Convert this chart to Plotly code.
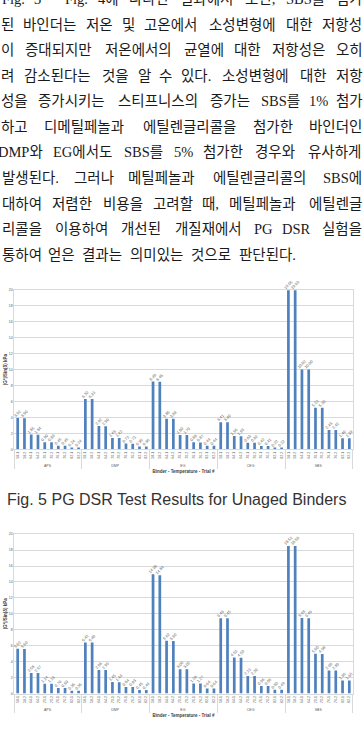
import plotly.graph_objects as go

# ---------------- data ----------------
binders = ["APS", "DMP", "EG", "CEG", "SBS"]
temps = ["58", "64", "70", "76", "82"]
trials = ["1", "2"]

unaged_APS = [3.92, 3.90, 1.85, 1.84, 0.90, 0.89, 0.45, 0.45, 0.24, 0.24]
unaged_DMP = [6.32, 6.31, 2.92, 2.90, 1.43, 1.42, 0.72, 0.71, 0.36, 0.36]
unaged_EG = [8.49, 8.46, 3.85, 3.83, 1.80, 1.79, 0.88, 0.87, 0.44, 0.44]
unaged_CEG = [3.41, 3.40, 1.66, 1.65, 0.83, 0.82, 0.42, 0.41, 0.22, 0.22]
unaged_SBS = [19.95, 19.93, 10.02, 10.00, 5.22, 5.20, 2.43, 2.42, 1.40, 1.39]

aged_APS = [5.62, 5.60, 2.58, 2.57, 1.24, 1.23, 0.70, 0.69, 0.35, 0.35]
aged_DMP = [6.42, 6.40, 2.96, 2.95, 1.45, 1.44, 0.84, 0.83, 0.45, 0.44]
aged_EG = [14.98, 14.84, 6.62, 6.60, 3.06, 3.05, 1.28, 1.27, 0.64, 0.64]
aged_CEG = [9.46, 9.45, 4.52, 4.50, 2.21, 2.20, 0.96, 0.95, 0.50, 0.49]
aged_SBS = [18.52, 18.50, 9.48, 9.46, 5.00, 4.98, 2.90, 2.89, 1.66, 1.65]

y_ticks = [0, 2, 4, 6, 8, 10, 12, 14, 16, 18, 20]

paragraph = [
    "Fig. 3 ~ Fig. 4에 나타난 결과에서 보면, SBS를 첨가",
    "된 바인더는 저온 및 고온에서 소성변형에 대한 저항성",
    "이 증대되지만 저온에서의 균열에 대한 저항성은 오히",
    "려 감소된다는 것을 알 수 있다. 소성변형에 대한 저항",
    "성을 증가시키는 스티프니스의 증가는 SBS를 1% 첨가",
    "하고 디메틸페놀과 에틸렌글리콜을 첨가한 바인더인",
    "DMP와 EG에서도 SBS를 5% 첨가한 경우와 유사하게",
    "발생된다. 그러나 메틸페놀과 에틸렌글리콜의 SBS에",
    "대하여 저렴한 비용을 고려할 때, 메틸페놀과 에틸렌글",
    "리콜을 이용하여 개선된 개질재에서 PG DSR 실험을",
    "통하여 얻은 결과는 의미있는 것으로 판단된다.",
]
caption = "Fig. 5 PG DSR Test Results for Unaged Binders"
x_title = "Binder - Temperature - Trial #"
y_title = "|G*|/Sin(δ) kPa"

# ---------------- build ----------------
W, H = 364, 736
outer = [b for b in binders for t in temps for r in trials]
inner = [f"{t}-{r}" for b in binders for t in temps for r in trials]
unaged = unaged_APS + unaged_DMP + unaged_EG + unaged_CEG + unaged_SBS
aged = aged_APS + aged_DMP + aged_EG + aged_CEG + aged_SBS

BAR = "#4F81BD"
GRID = "#d9d9d9"
TXT = "#595959"

fig = go.Figure()
for vals, xa, ya in [(unaged, "x", "y"), (aged, "x2", "y2")]:
    fig.add_trace(go.Bar(
        x=[outer, inner], y=vals, xaxis=xa, yaxis=ya,
        marker=dict(color=BAR, line=dict(width=0)),
        text=[f"{v:.2f}" for v in vals], textposition="outside",
        textangle=-45, constraintext="none", cliponaxis=False,
        textfont=dict(size=4, color=TXT, family="Liberation Sans"),
        showlegend=False,
    ))

def px_x(p):
    return p / W

def px_y(p):
    return 1 - p / H

xdom = [px_x(14.3), px_x(352.7)]
common_x = dict(
    type="multicategory", domain=xdom, showgrid=False,
    showline=True, linecolor=GRID, linewidth=1, mirror=True,
    tickfont=dict(size=3.5, color=TXT, family="Liberation Sans"),
    tickangle=-90, showdividers=True, dividercolor=GRID, dividerwidth=1,
    title=dict(text=f"<b>{x_title}</b>", font=dict(size=4.5, color="#404040",
               family="Liberation Sans"), standoff=2),
)
common_y = dict(
    range=[0, 20], tickvals=y_ticks, showgrid=True, gridcolor=GRID, gridwidth=1,
    showline=True, linecolor=GRID, mirror=True, zeroline=False,
    tickfont=dict(size=3.5, color=TXT, family="Liberation Sans"), ticks="",
    title=dict(text=f"<b>{y_title}</b>", font=dict(size=4.5, color="#404040",
               family="Liberation Sans"), standoff=1),
)

fig.update_layout(
    width=W, height=H, margin=dict(l=0, r=0, t=0, b=0),
    paper_bgcolor="white", plot_bgcolor="white", bargap=0.6,
    xaxis=dict(anchor="y", **common_x),
    yaxis=dict(anchor="x", domain=[px_y(449.8), px_y(289.3)], **common_y),
    xaxis2=dict(anchor="y2", **common_x),
    yaxis2=dict(anchor="x2", domain=[px_y(695.4), px_y(535)], **common_y),
)

# ---------------- justified paragraph ----------------
FS = 14.5
FONT = "Liberation Serif, Noto Sans CJK KR"

def word_width(word, f):
    w = 0.0
    for ch in word:
        o = ord(ch)
        if 0xAC00 <= o <= 0xD7A3 or 0x3130 <= o <= 0x318F:
            w += 1.0
        elif ch in ".,":
            w += 0.25
        elif ch == "%":
            w += 0.83
        elif ch == "~":
            w += 0.54
        elif ch.isupper():
            w += 0.67
        elif ch.isdigit():
            w += 0.5
        else:
            w += 0.44
    return w * f

line_y0, line_dy = -2.9, 25.7
annotations = []
for i, line in enumerate(paragraph):
    yy = line_y0 + i * line_dy
    words = line.split(" ")
    widths = [word_width(w, FS) for w in words]
    last = i == len(paragraph) - 1
    if last:
        gap = 0.27 * FS
    else:
        gap = (W - sum(widths)) / (len(words) - 1)
    x = -1.0 if words[0].startswith("DMP") else 0.0
    for w, wd in zip(words, widths):
        annotations.append(dict(
            x=px_x(x + wd / 2), y=px_y(yy), xref="paper", yref="paper",
            text=w, showarrow=False, xanchor="center", yanchor="middle",
            font=dict(size=FS, color="#1a1a1a", family=FONT),
        ))
        x += wd + gap

annotations.append(dict(
    x=px_x(176), y=px_y(500), xref="paper", yref="paper", text=caption,
    showarrow=False, xanchor="center", yanchor="middle",
    font=dict(size=16, color="#333333", family="Liberation Sans"),
))
fig.update_layout(annotations=annotations)

fig.write_html("out.html")
